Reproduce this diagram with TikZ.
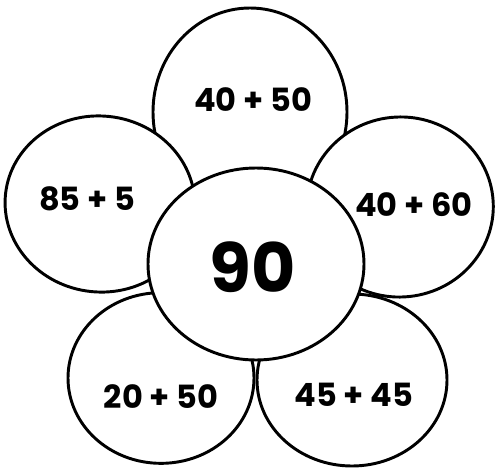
\documentclass[tikz,border=0pt]{standalone}
\usepackage{fontspec}
\setmainfont{Poppins}
\usetikzlibrary{shapes.geometric}
\tikzset{
  petal/.style={ellipse, draw=black, fill=white, line width=2.2pt, inner sep=0pt},
  lbl/.style={font=\fontsize{24}{24}\selectfont\bfseries, inner sep=0pt},
  big/.style={font=\fontsize{51}{51}\selectfont\bfseries, inner sep=0pt}
}
\begin{document}
\begin{tikzpicture}[x=0.75pt,y=-0.75pt]
\useasboundingbox (0,0) rectangle (496,468);
\fill[white] (0,0) rectangle (496,468);
% petals, back to front
\node[petal, minimum width=145.5pt, minimum height=156pt] (ptop) at (250,112) {};
\node[petal, minimum width=142.5pt, minimum height=132pt, rotate=-6] (pleft) at (100,204) {};
\node[petal, minimum width=140pt, minimum height=135pt, rotate=6] (pright) at (400,207) {};
\node[petal, minimum width=142.5pt, minimum height=129pt] (pbr) at (352,380) {};
\node[petal, minimum width=139.5pt, minimum height=128pt] (pbl) at (161,378) {};
\node[petal, minimum width=162pt, minimum height=144pt] (center) at (256,264) {};
% labels
\node[lbl] (t1) at (253,100) {40 + 50};
\node[lbl] (t2) at (87,199) {85 + 5};
\node[lbl] (t3) at (414,205) {40 + 60};
\node[lbl] (t4) at (161,397) {20 + 50};
\node[lbl] (t5) at (354,395) {45 + 45};
\node[big] (t0) at (253,267) {90};
\end{tikzpicture}
\end{document}
